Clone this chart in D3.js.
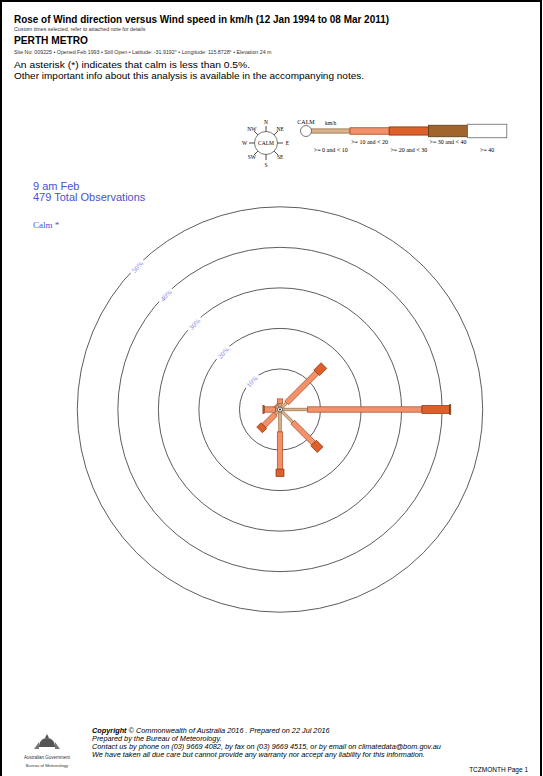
<!DOCTYPE html>
<html><head><meta charset="utf-8">
<script src="https://cdnjs.cloudflare.com/ajax/libs/d3/7.8.5/d3.min.js"></script>
<style>html,body{margin:0;padding:0;background:#fff;}svg{display:block;}</style>
</head><body>
<script>
// ---------------- data ----------------
const directions = ["N","NE","E","SE","S","SW","W","NW"];
const directionAngles = [0,45,90,135,180,225,270,315];
const speedClasses = [">= 0 and < 10", ">= 10 and < 20", ">= 20 and < 30", ">= 30 and < 40", ">= 40"];
// percentage of observations per direction for each speed class
const speed0to10  = [0.8, 1.7, 6.2, 3.8, 4.9, 1.0, 0.5, 0.6];
const speed10to20 = [1.2, 10.5, 28.2, 7.3, 9.2, 4.0, 2.8, 0.3];
const speed20to30 = [0.0, 2.5, 6.8, 2.3, 1.8, 1.5, 0.3, 0.0];
const speed30to40 = [0.0, 0.0, 0.3, 0.0, 0.0, 0.0, 0.0, 0.0];
const speed40plus = [0.0, 0.0, 0.0, 0.0, 0.0, 0.0, 0.0, 0.0];
const ringTicks = [10, 20, 30, 40, 50];
const ringLabels = ["10%", "20%", "30%", "40%", "50%"];

const W = 543, H = 776;
const svg = d3.select("body").append("svg").attr("width", W).attr("height", H);

// page frame
svg.append("rect").attr("x",1).attr("y",1).attr("width",W-3).attr("height",H+10)
  .attr("fill","none").attr("stroke","#000").attr("stroke-width",2);

const sans = "'Liberation Sans', Arial, Helvetica, sans-serif";
const serif = "'Liberation Serif', 'Times New Roman', serif";

function txt(x,y,s,size,opts={}) {
  const t = (opts.parent || svg).append("text").attr("x",x).attr("y",y).text(s)
    .attr("font-family", opts.family || sans).attr("font-size", size)
    .attr("fill", opts.fill || "#000");
  if (opts.weight) t.attr("font-weight", opts.weight);
  if (opts.style) t.attr("font-style", opts.style);
  if (opts.anchor) t.attr("text-anchor", opts.anchor);
  if (opts.len) t.attr("textLength", opts.len).attr("lengthAdjust","spacingAndGlyphs");
  return t;
}

// header
txt(14, 23, "Rose of Wind direction versus Wind speed in km/h (12 Jan 1994 to 08 Mar 2011)", 10, {weight:"bold", len:375});
txt(14, 30.5, "Custom times selected, refer to attached note for details", 5.3, {fill:"#333"});
txt(14, 44, "PERTH METRO", 10, {weight:"bold", len:74});
txt(14, 53.5, "Site No: 009225 \u2022 Opened Feb 1993 \u2022 Still Open \u2022 Latitude: -31.9192\u00b0 \u2022 Longitude: 115.8728\u00b0 \u2022 Elevation 24 m", 5.3, {fill:"#333"});
txt(14, 68, "An asterisk (*) indicates that calm is less than 0.5%.", 9, {len:236});
txt(14, 78.5, "Other important info about this analysis is available in the accompanying notes.", 9, {len:350});

// sub-header (blue)
const blue = "#4b4fd6";
txt(33, 190, "9 am Feb", 11, {fill:blue});
txt(33, 201, "479 Total Observations", 11, {fill:blue});
txt(33, 228, "Calm *", 9, {fill:blue, family:serif});

// ---------------- colours / widths ----------------
const fills = ["#d8b48e", "#f2916a", "#dd5f2a", "#a0642c", "#ffffff"];
const strokes = ["#9a6a3e", "#a8491f", "#8a3413", "#5e3612", "#666666"];
const widths = [2.6, 5.4, 8.0, 9.6, 11.5];

// ---------------- compass legend ----------------
const comp = svg.append("g").attr("transform","translate(266,143)");
comp.append("circle").attr("r",11.5).attr("fill","#fff").attr("stroke","#555").attr("stroke-width",0.8);
comp.append("text").attr("y",2).attr("text-anchor","middle").attr("font-family",serif).attr("font-size",5.5).text("CALM");
directions.forEach((d,i)=>{
  const a = (directionAngles[i]-90)*Math.PI/180;
  comp.append("line").attr("x1",Math.cos(a)*11.5).attr("y1",Math.sin(a)*11.5)
    .attr("x2",Math.cos(a)*17).attr("y2",Math.sin(a)*17).attr("stroke","#333").attr("stroke-width",0.9);
  const rl = d.length>1 ? 20 : 21.5;
  comp.append("text").attr("x",Math.cos(a)*rl).attr("y",Math.sin(a)*rl+2)
    .attr("text-anchor","middle").attr("font-family",serif).attr("font-size",5.5).text(d);
});

// ---------------- speed legend ----------------
const ly = 131;
const legendX = d3.scaleLinear().domain([1,5]).range([350, 506.8]);
svg.append("circle").attr("cx",306).attr("cy",ly).attr("r",5.5).attr("fill","#fff").attr("stroke","#555").attr("stroke-width",0.8);
txt(306, 123.5, "CALM", 6, {family:serif, anchor:"middle"});
txt(325, 125, "km/h", 5.5, {family:serif});
const legendH = [4.2, 6.5, 8.2, 11.5, 13.5];
speedClasses.forEach((s,i)=>{
  const xs = i===0 ? 311.5 : legendX(i);
  const xe = legendX(i+1);
  const hh = legendH[i];
  svg.append("rect").attr("x",xs).attr("y",ly-hh/2).attr("width",xe-xs).attr("height",hh)
    .attr("fill",fills[i]).attr("stroke",strokes[i]).attr("stroke-width",0.8);
  const cx = (xs+xe)/2;
  txt(cx, i%2===0 ? 152 : 143.5, s, 6, {family:serif, anchor:"middle"});
});

// ---------------- rose ----------------
const cx = 280, cy = 409.5;
const r = d3.scaleLinear().domain([0,50]).range([0,202.7]);
const rose = svg.append("g").attr("transform",`translate(${cx},${cy})`);

rose.selectAll("circle.ring").data(ringTicks).join("circle").attr("class","ring")
  .attr("r", d=>r(d)).attr("fill","none").attr("stroke","#4a4a4a").attr("stroke-width",0.9);

ringTicks.forEach((t,i)=>{
  const a = -135*Math.PI/180;
  const rr = r(t)-1;
  const g = rose.append("g").attr("transform",`translate(${Math.cos(a)*rr},${Math.sin(a)*rr}) rotate(-47)`);
  g.append("rect").attr("x",-9).attr("y",-4.5).attr("width",18).attr("height",8).attr("fill","#fff");
  g.append("text").attr("y",2.4).attr("text-anchor","middle").attr("font-family",serif)
    .attr("font-size",7).attr("fill","#8484e0").text(ringLabels[i]);
});

const series = [speed0to10, speed10to20, speed20to30, speed30to40, speed40plus];
const r0 = 2.5;
directions.forEach((d,i)=>{
  let cum = 0;
  const g = rose.append("g").attr("transform",`rotate(${directionAngles[i]-90})`);
  series.forEach((arr,k)=>{
    const v = arr[i];
    if (v<=0) { return; }
    const xs = r0 + r(cum), xe = r0 + r(cum+v);
    g.append("rect").attr("x",xs).attr("y",-widths[k]/2).attr("width",xe-xs).attr("height",widths[k])
      .attr("fill",fills[k]).attr("stroke",strokes[k]).attr("stroke-width",0.7);
    cum += v;
  });
});
rose.append("circle").attr("r",2.5).attr("fill","#fff").attr("stroke","#333").attr("stroke-width",0.7);
rose.append("circle").attr("r",0.9).attr("fill","#000");

// ---------------- footer ----------------
const foot = svg.append("g").attr("transform","translate(92,0) scale(1.06,1)");
const fy = 733.5;
const fs = 6.9;
const lh = 7.7;
const f1 = foot.append("text").attr("x",0).attr("y",fy).attr("font-family",sans).attr("font-size",fs).attr("font-style","italic");
f1.append("tspan").attr("font-weight","bold").text("Copyright");
f1.append("tspan").text(" \u00a9 Commonwealth of Australia 2016 . Prepared on 22 Jul 2016");
txt(0, fy+lh, "Prepared by the Bureau of Meteorology.", fs, {style:"italic", parent:foot});
txt(0, fy+2*lh, "Contact us by phone on (03) 9669 4082, by fax on (03) 9669 4515, or by email on climatedata@bom.gov.au", fs, {style:"italic", parent:foot});
txt(0, fy+3*lh, "We have taken all due care but cannot provide any warranty nor accept any liability for this information.", fs, {style:"italic", parent:foot});
txt(528, 772, "TCZMONTH Page 1", 6.5, {anchor:"end"});

// logo
const logo = svg.append("g").attr("transform","translate(47,743)");
logo.append("path").attr("d","M-8,4 C-8,-2 -4,-5 0,-5 C4,-5 8,-2 8,4 Z").attr("fill","#555");
logo.append("path").attr("d","M-2,-5 L0,-9 L2,-5 Z").attr("fill","#555");
logo.append("path").attr("d","M-13,6 L-8,-1 L-8,6 Z M13,6 L8,-1 L8,6 Z").attr("fill","#777");
txt(47, 759, "Australian Government", 4.5, {anchor:"middle", fill:"#333"});
txt(47, 767, "Bureau of Meteorology", 4.2, {anchor:"middle", fill:"#333"});
</script>
</body></html>
